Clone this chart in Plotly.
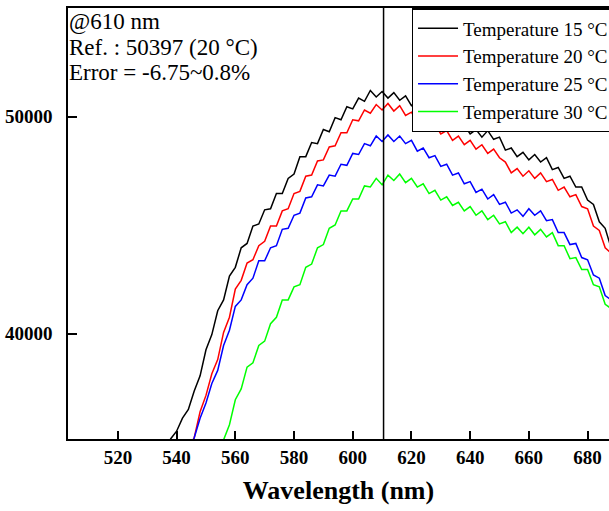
import plotly.graph_objects as go

wavelength = list(range(536, 690, 2))

temp15 = [34700, 35150, 35500, 36100, 36500, 37350, 38050, 39250, 39950, 41050,
          41550, 42650, 43050, 43950, 44150, 44950, 45050, 45700, 45750, 46450,
          46450, 47150, 47350, 48150, 48150, 48800, 48750, 49400, 49300, 49950,
          49850, 50450, 50350, 50850, 50700, 51200, 50900, 51150, 50850, 51100,
          50750, 50950, 50500, 50700, 50250, 50400, 49950, 50100, 49700, 49850,
          49400, 49600, 49200, 49400, 49050, 49350, 48950, 49050, 48450, 48550,
          48150, 48350, 48000, 48250, 47900, 48100, 47550, 47650, 47150, 47250,
          46750, 46750, 46150, 45950, 45150, 44850, 43950]

temp20 = [32000, 32700, 33400, 34000, 34700, 35200, 36400, 37150, 38150, 38800,
          40050, 40750, 42050, 42450, 43250, 43400, 44050, 44250, 44950, 44950,
          45650, 45750, 46450, 46550, 47250, 47300, 47950, 48000, 48600, 48650,
          49250, 49250, 49850, 49800, 50300, 50150, 50550, 50300, 50600, 50250,
          50500, 50050, 50200, 49750, 49900, 49450, 49650, 49200, 49350, 48900,
          49100, 48700, 48900, 48500, 48700, 48300, 48500, 48100, 47900, 47400,
          47600, 47250, 47500, 47150, 47400, 47000, 47100, 46600, 46750, 46300,
          46400, 45850, 45750, 44950, 44750, 43950, 43700]

temp25 = [31800, 32500, 33200, 33800, 34500, 35200, 36100, 36800, 37700, 38300,
          39450, 40150, 41250, 41550, 42250, 42550, 43350, 43350, 43950, 44050,
          44800, 44850, 45450, 45550, 46250, 46300, 46850, 46800, 47300, 47250,
          47800, 47750, 48300, 48250, 48750, 48650, 49100, 48850, 49150, 48850,
          49100, 48750, 48900, 48400, 48550, 48100, 48200, 47700, 47800, 47300,
          47400, 46900, 47000, 46500, 46650, 46200, 46400, 45950, 46050, 45550,
          45700, 45400, 45750, 45450, 45650, 45200, 45250, 44650, 44650, 44100,
          44150, 43500, 43400, 42700, 42550, 41750, 41550]

temp30 = [28500, 29200, 29900, 30600, 31300, 32000, 32600, 33200, 33800, 34400,
          35100, 35800, 36950, 37450, 38450, 38650, 39450, 39650, 40450, 40750,
          41550, 41550, 42150, 42250, 43050, 43200, 43950, 44100, 44850, 45000,
          45650, 45650, 46200, 46200, 46800, 46750, 47150, 46850, 47300, 47050,
          47350, 46950, 47150, 46750, 46900, 46450, 46600, 46150, 46300, 45900,
          46050, 45650, 45850, 45450, 45650, 45250, 45450, 45050, 45150, 44650,
          44900, 44600, 44900, 44550, 44800, 44450, 44650, 44050, 44050, 43450,
          43500, 42950, 42950, 42250, 42150, 41350, 41150]

series_names = ["Temperature 15 °C", "Temperature 20 °C", "Temperature 25 °C", "Temperature 30 °C"]
series_values = [temp15, temp20, temp25, temp30]
series_colors = ["#000000", "#ff0000", "#0000ff", "#00ff00"]

x_ticks = [520, 540, 560, 580, 600, 620, 640, 660, 680]
y_ticks = [40000, 50000]
ref_wavelength = 610.5
info_lines = ["@610 nm", "Ref. : 50397 (20 °C)", "Error = -6.75~0.8%"]

FONT = "Liberation Serif, Times New Roman, serif"
PLOT_H = 511 - 8 - 72

fig = go.Figure()
for name, vals, col in zip(series_names, series_values, series_colors):
    fig.add_trace(go.Scatter(x=wavelength, y=vals, mode="lines", name=name,
                             line=dict(color=col, width=1.5)))

fig.add_shape(type="line", xref="x", yref="paper", x0=ref_wavelength, x1=ref_wavelength,
              y0=0, y1=1, line=dict(color="black", width=1.5))

for i, t in enumerate(info_lines):
    yc = 22 + 25.5 * i
    fig.add_annotation(xref="paper", yref="paper", x=0.0, y=1 - (yc - 8) / PLOT_H,
                       xanchor="left", yanchor="middle", text=t, showarrow=False,
                       font=dict(family=FONT, size=23, color="black"), xshift=-1)

fig.update_layout(
    width=609, height=511,
    margin=dict(l=68, r=0, t=8, b=72, autoexpand=False),
    paper_bgcolor="white", plot_bgcolor="white",
    showlegend=True,
    legend=dict(x=0.635, y=1, xanchor="left", yanchor="top",
                bgcolor="white", bordercolor="black", borderwidth=1.5,
                font=dict(family=FONT, size=19, color="black"),
                tracegroupgap=0, itemwidth=40),
    xaxis=dict(range=[503, 687.3], tickvals=x_ticks, ticks="inside", ticklen=8,
               tickwidth=1.5, tickcolor="black", showline=True, linecolor="black",
               linewidth=1.5, mirror=True, showgrid=False, zeroline=False,
               automargin=False,
               tickfont=dict(family=FONT, size=19, color="black", weight="bold"),
               ticklabelstandoff=0,
               title=dict(text="<b>Wavelength (nm)</b>", standoff=14,
                          font=dict(family=FONT, size=26, color="black"))),
    yaxis=dict(range=[35140, 55000], tickvals=y_ticks, tickformat="d", ticks="inside", ticklen=9,
               tickwidth=1.5, tickcolor="black", showline=True, linecolor="black",
               linewidth=1.5, mirror=False, showgrid=False, zeroline=False,
               automargin=False,
               tickfont=dict(family=FONT, size=19, color="black", weight="bold"),
               ticklabelstandoff=10),
)

fig.write_html("out.html", config={"displayModeBar": False},
               post_script="document.body.style.margin='0';")
